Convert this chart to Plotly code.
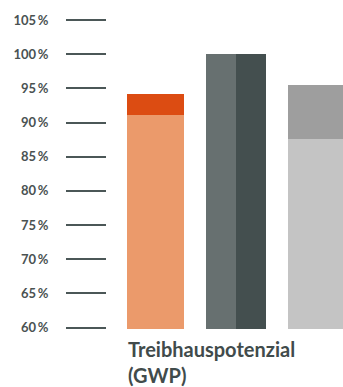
import plotly.graph_objects as go

# Relative greenhouse warming potential, in percent
tick_values = [60, 65, 70, 75, 80, 85, 90, 95, 100, 105]
tick_labels = ["60\u2009%", "65\u2009%", "70\u2009%", "75\u2009%", "80\u2009%",
               "85\u2009%", "90\u2009%", "95\u2009%", "100\u2009%", "105\u2009%"]

orange_base = [91.1]
orange_top = [3.1]
grey_left = [100.0]
grey_right = [100.0]
light_base = [87.6]
light_top = [7.9]

category_label = "Treibhauspotenzial<br>(GWP)"

fig = go.Figure()

bar_w = 0.71
half_w = 0.37

fig.add_trace(go.Bar(x=[0], y=orange_base, width=bar_w, marker_color="#EB9A6B",
                     marker_line_width=0, showlegend=False))
fig.add_trace(go.Bar(x=[0], y=orange_top, base=orange_base, width=bar_w,
                     marker_color="#DC4C12", marker_line_width=0, showlegend=False))
fig.add_trace(go.Bar(x=[1 - half_w / 2], y=grey_left, width=half_w,
                     marker_color="#677070", marker_line_width=0, showlegend=False))
fig.add_trace(go.Bar(x=[1 + half_w / 2], y=grey_right, width=half_w,
                     marker_color="#444F4F", marker_line_width=0, showlegend=False))
fig.add_trace(go.Bar(x=[2], y=light_base, width=bar_w, marker_color="#C4C4C4",
                     marker_line_width=0, showlegend=False))
fig.add_trace(go.Bar(x=[2], y=light_top, base=light_base, width=bar_w,
                     marker_color="#9E9E9E", marker_line_width=0, showlegend=False))

px_per_unit = 6.844
y_low = 60 - 1.4 / px_per_unit
y_high = 105 + 20 / px_per_unit

fig.update_layout(
    width=343, height=387,
    margin=dict(l=107, r=0, t=0, b=387 - 329.4),
    plot_bgcolor="white", paper_bgcolor="white",
    barmode="overlay",
    bargap=0,
    xaxis=dict(range=[-0.602, 2.329], showticklabels=False, ticks="",
               showgrid=False, zeroline=False, showline=False, fixedrange=True),
    yaxis=dict(range=[y_low, y_high], tickvals=tick_values, ticktext=tick_labels,
               ticks="outside", ticklen=40, tickwidth=2, tickcolor="#4B5757",
               ticklabelstandoff=15,
               tickfont=dict(family="Lato", size=13, color="#4A5252", weight="bold"),
               showgrid=False, zeroline=False, showline=False, fixedrange=True),
    font=dict(family="Lato"),
    annotations=[dict(
        text=category_label, xref="x", x=-bar_w / 2 - 0.01, xanchor="left",
        yref="paper", y=-0.017, yanchor="top", showarrow=False, align="left",
        font=dict(family="Lato", size=20, color="#414B4B", weight="bold"),
    )],
)

fig.write_html("out.html")
